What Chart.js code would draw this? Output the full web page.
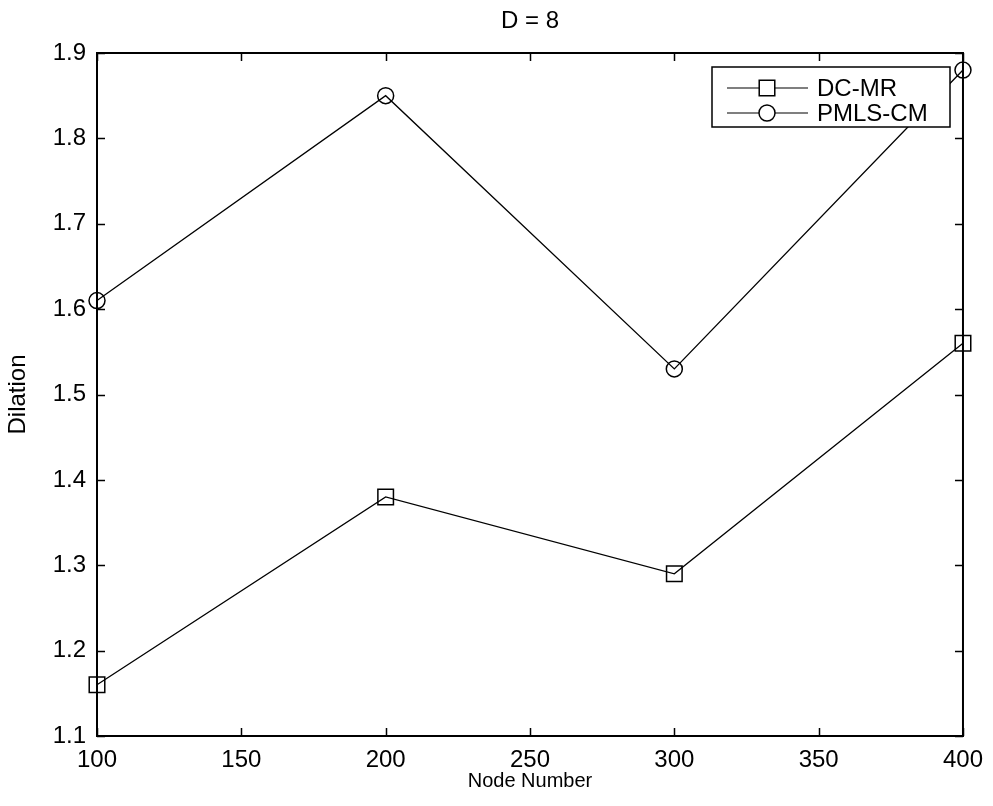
<!DOCTYPE html>
<html>
<head>
<meta charset="utf-8">
<title>D = 8</title>
<script src="https://cdn.jsdelivr.net/npm/chart.js@4.4.1/dist/chart.umd.min.js"></script>
<style>
    html, body { margin: 0; padding: 0; background: #ffffff; }
    canvas { display: block; }
</style>
</head>
<body>
<canvas id="myChart" width="993" height="806"></canvas>
<script>
    const nodeNumbers = [100, 200, 300, 400]
    const dcMr = [1.16, 1.38, 1.29, 1.56]
    const pmlsCm = [1.61, 1.85, 1.53, 1.88]
    const seriesNames = ['DC-MR', 'PMLS-CM']
    const chartTitle = 'D = 8'

    const fontFamily = '"Liberation Sans", Arial, Helvetica, sans-serif'

    function toPoints(values) {
        return nodeNumbers.map((x, i) => ({ x: x, y: values[i] }))
    }

    // matlab style box: frame on four sides, ticks pointing inwards, legend with line + marker
    const matlabBox = {
        id: 'matlabBox',
        afterDatasetsDraw(chart) {
            const ctx = chart.ctx
            const area = chart.chartArea
            const xScale = chart.scales.x
            const yScale = chart.scales.y
            const tickLen = 8

            ctx.save()
            ctx.strokeStyle = '#000000'
            ctx.lineWidth = 1.5
            ctx.beginPath()
            xScale.ticks.forEach(t => {
                const px = Math.round(xScale.getPixelForValue(t.value)) + 0.5
                ctx.moveTo(px, area.bottom)
                ctx.lineTo(px, area.bottom - tickLen)
                ctx.moveTo(px, area.top)
                ctx.lineTo(px, area.top + tickLen)
            })
            yScale.ticks.forEach(t => {
                const py = Math.round(yScale.getPixelForValue(t.value)) + 0.5
                ctx.moveTo(area.left, py)
                ctx.lineTo(area.left + tickLen, py)
                ctx.moveTo(area.right, py)
                ctx.lineTo(area.right - tickLen, py)
            })
            ctx.stroke()

            ctx.lineWidth = 2
            ctx.strokeRect(area.left, area.top, area.right - area.left, area.bottom - area.top)

            // title, centred over the axes box
            ctx.fillStyle = '#000000'
            ctx.font = '24px ' + fontFamily
            ctx.textAlign = 'center'
            ctx.textBaseline = 'middle'
            ctx.fillText(chartTitle, (area.left + area.right) / 2, 21)

            // legend
            const lx = 712, ly = 67, lw = 238, lh = 60
            ctx.fillStyle = '#ffffff'
            ctx.fillRect(lx, ly, lw, lh)
            ctx.lineWidth = 1.5
            ctx.strokeRect(lx, ly, lw, lh)

            chart.data.datasets.forEach((ds, i) => {
                const rowY = ly + 21 + i * 25
                ctx.lineWidth = 1.2
                ctx.strokeStyle = '#000000'
                ctx.beginPath()
                ctx.moveTo(lx + 15, rowY)
                ctx.lineTo(lx + 96, rowY)
                ctx.stroke()
                ctx.fillStyle = '#ffffff'
                ctx.lineWidth = ds.pointBorderWidth
                Chart.helpers.drawPoint(ctx, {
                    pointStyle: ds.pointStyle,
                    radius: ds.pointRadius,
                    borderWidth: ds.pointBorderWidth
                }, lx + 55, rowY)
                ctx.fillStyle = '#000000'
                ctx.font = '24px ' + fontFamily
                ctx.textAlign = 'left'
                ctx.textBaseline = 'middle'
                ctx.fillText(ds.label, lx + 105, rowY + 1)
            })
            ctx.restore()
        }
    }

    const data = {
        datasets: [
            {
                label: seriesNames[0],
                data: toPoints(dcMr),
                borderColor: '#000000',
                borderWidth: 1.3,
                pointStyle: 'rect',
                pointRadius: 11,
                pointBorderWidth: 1.5,
                pointBorderColor: '#000000',
                pointBackgroundColor: 'rgba(0,0,0,0)',
                clip: false
            },
            {
                label: seriesNames[1],
                data: toPoints(pmlsCm),
                borderColor: '#000000',
                borderWidth: 1.3,
                pointStyle: 'circle',
                pointRadius: 8,
                pointBorderWidth: 1.5,
                pointBorderColor: '#000000',
                pointBackgroundColor: 'rgba(0,0,0,0)',
                clip: false
            }
        ]
    }

    const config = {
        type: 'line',
        data: data,
        plugins: [matlabBox],
        options: {
            responsive: false,
            animation: false,
            devicePixelRatio: 1,
            layout: { padding: { left: 0, right: 22, top: 53, bottom: 0 } },
            plugins: {
                legend: { display: false },
                tooltip: { enabled: false },
                title: { display: false }
            },
            scales: {
                x: {
                    type: 'linear',
                    min: 100,
                    max: 400,
                    ticks: {
                        stepSize: 50,
                        color: '#000000',
                        padding: 10,
                        maxRotation: 0,
                        font: { family: fontFamily, size: 24 }
                    },
                    grid: { display: false, drawTicks: false },
                    border: { display: false },
                    title: {
                        display: true,
                        text: 'Node Number',
                        color: '#000000',
                        font: { family: fontFamily, size: 20 },
                        padding: { top: 0, bottom: 13 }
                    },
                    afterFit(scale) { scale.height = 70 }
                },
                y: {
                    type: 'linear',
                    min: 1.1,
                    max: 1.9,
                    ticks: {
                        stepSize: 0.1,
                        color: '#000000',
                        padding: 11,
                        font: { family: fontFamily, size: 24 },
                        callback: v => v.toFixed(1)
                    },
                    grid: { display: false, drawTicks: false },
                    border: { display: false },
                    title: {
                        display: true,
                        text: 'Dilation',
                        color: '#000000',
                        font: { family: fontFamily, size: 24 },
                        padding: { top: 4, bottom: 0 }
                    },
                    afterFit(scale) { scale.width = 97 }
                }
            }
        }
    }

    const myChart = new Chart(
        document.querySelector('#myChart'),
        config
    )
</script>
</body>
</html>
